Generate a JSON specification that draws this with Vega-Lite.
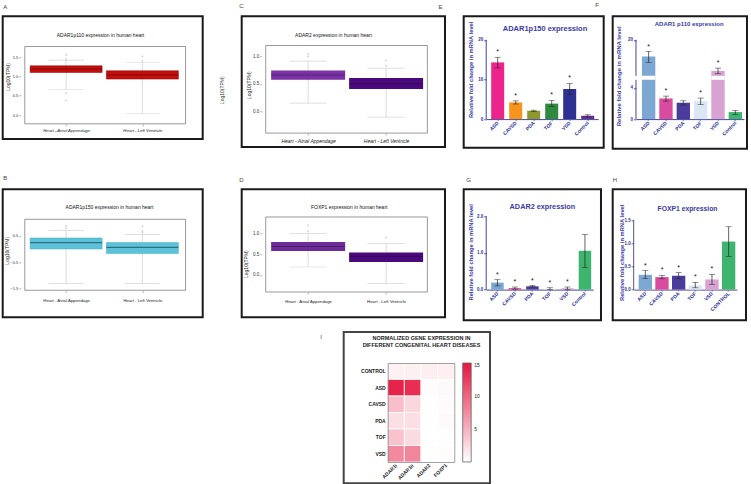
{
"$schema": "https://vega.github.io/schema/vega-lite/v6.json",
"padding": {"left": 1.7, "top": 0.3, "right": 0, "bottom": 0},
"background": "white",
"spacing": 9.7,
"resolve": {"scale": {"color": "independent"}, "legend": {"color": "independent"}},
"config": {
 "font": "Liberation Sans",
 "view": {"stroke": "#1a1a1a", "strokeWidth": 2},
 "axis": {"grid": false, "labelFont": "Liberation Sans", "titleFont": "Liberation Sans"},
 "title": {"font": "Liberation Sans"}
},
"datasets": {
 "a_box": [{"g":1,"lo":0.654,"q1":1.102,"med":1.19,"q3":1.275,"hi":1.422},{"g":2,"lo":0.034,"q1":0.931,"med":1.035,"q3":1.146,"hi":1.353}],
 "a_out": [{"g":1,"v":1.559},{"g":1,"v":1.448},{"g":1,"v":0.569},{"g":1,"v":0.378},{"g":2,"v":1.516},{"g":2,"v":1.397}],
 "b_box": [{"g":1,"lo":-1.324,"q1":0.0,"med":0.245,"q3":0.421,"hi":0.704},{"g":2,"lo":-1.324,"q1":-0.176,"med":0.065,"q3":0.245,"hi":0.551}],
 "b_out": [{"g":1,"v":0.88},{"g":1,"v":0.79},{"g":2,"v":0.87},{"g":2,"v":0.69},{"g":2,"v":0.63}],
 "c_box": [{"g":1,"lo":0.148,"q1":0.574,"med":0.66,"q3":0.744,"hi":0.916},{"g":2,"lo":-0.109,"q1":0.404,"med":0.5,"q3":0.605,"hi":0.787}],
 "c_out": [{"g":1,"v":1.044},{"g":1,"v":1.0},{"g":2,"v":0.927},{"g":2,"v":0.83}],
 "d_box": [{"g":1,"lo":0.192,"q1":0.579,"med":0.685,"q3":0.797,"hi":1.0},{"g":2,"lo":-0.21,"q1":0.313,"med":0.45,"q3":0.54,"hi":0.758}],
 "d_out": [{"g":1,"v":1.2},{"g":1,"v":1.056},{"g":2,"v":0.903}],
 "e": [{"cat":"ASD","mean":14.3,"lo":12.9,"hi":15.6,"sig":"*"},{"cat":"CAVSD","mean":4.2,"lo":3.8,"hi":4.6,"sig":"*"},{"cat":"PDA","mean":2.1,"lo":1.95,"hi":2.25,"sig":""},{"cat":"TOF","mean":3.9,"lo":3.2,"hi":4.7,"sig":"*"},{"cat":"VSD","mean":7.6,"lo":6.2,"hi":9.0,"sig":"*"},{"cat":"Control","mean":0.85,"lo":0.6,"hi":1.1,"sig":""}],
 "f": [{"cat":"ASD","mean":13.5,"lo":11.2,"hi":15.45,"sig":"*"},{"cat":"CAVSD","mean":2.65,"lo":2.3,"hi":2.95,"sig":"*"},{"cat":"PDA","mean":2.1,"lo":1.8,"hi":2.35,"sig":""},{"cat":"TOF","mean":2.3,"lo":1.85,"hi":2.7,"sig":"*"},{"cat":"VSD","mean":7.9,"lo":6.8,"hi":9.0,"sig":"*"},{"cat":"Control","mean":0.9,"lo":0.6,"hi":1.1,"sig":""}],
 "g": [{"cat":"ASD","mean":0.19,"lo":0.1,"hi":0.27,"sig":"*"},{"cat":"CAVSD","mean":0.04,"lo":0.01,"hi":0.07,"sig":"*"},{"cat":"PDA","mean":0.09,"lo":0.07,"hi":0.11,"sig":"*"},{"cat":"TOF","mean":0.02,"lo":0.0,"hi":0.05,"sig":"*"},{"cat":"VSD","mean":0.035,"lo":0.0,"hi":0.07,"sig":"*"},{"cat":"Control","mean":1.06,"lo":0.6,"hi":1.5,"sig":""}],
 "h": [{"cat":"ASD","mean":0.32,"lo":0.24,"hi":0.41,"sig":"*"},{"cat":"CAVSD","mean":0.27,"lo":0.235,"hi":0.31,"sig":"*"},{"cat":"PDA","mean":0.3,"lo":0.24,"hi":0.37,"sig":"*"},{"cat":"TOF","mean":0.09,"lo":0.04,"hi":0.157,"sig":"*"},{"cat":"VSD","mean":0.22,"lo":0.114,"hi":0.33,"sig":"*"},{"cat":"CONTROL","mean":1.04,"lo":0.72,"hi":1.36,"sig":""}],
 "i": [
  {"dis":"CONTROL","gene":"ADAR1i","val":0.9},{"dis":"CONTROL","gene":"ADAR1ii","val":0.95},{"dis":"CONTROL","gene":"ADAR2","val":1.06},{"dis":"CONTROL","gene":"FOXP1","val":1.04},
  {"dis":"ASD","gene":"ADAR1i","val":14.2},{"dis":"ASD","gene":"ADAR1ii","val":13.5},{"dis":"ASD","gene":"ADAR2","val":0.19},{"dis":"ASD","gene":"FOXP1","val":0.32},
  {"dis":"CAVSD","gene":"ADAR1i","val":4.2},{"dis":"CAVSD","gene":"ADAR1ii","val":2.65},{"dis":"CAVSD","gene":"ADAR2","val":0.04},{"dis":"CAVSD","gene":"FOXP1","val":0.27},
  {"dis":"PDA","gene":"ADAR1i","val":2.1},{"dis":"PDA","gene":"ADAR1ii","val":2.1},{"dis":"PDA","gene":"ADAR2","val":0.09},{"dis":"PDA","gene":"FOXP1","val":0.3},
  {"dis":"TOF","gene":"ADAR1i","val":3.9},{"dis":"TOF","gene":"ADAR1ii","val":2.3},{"dis":"TOF","gene":"ADAR2","val":0.02},{"dis":"TOF","gene":"FOXP1","val":0.09},
  {"dis":"VSD","gene":"ADAR1i","val":7.6},{"dis":"VSD","gene":"ADAR1ii","val":7.9},{"dis":"VSD","gene":"ADAR2","val":0.035},{"dis":"VSD","gene":"FOXP1","val":0.22}
 ]
},
"vconcat": [
{"bounds": "flush", "align": "none", "columns": 7, "spacing": 0,
 "resolve": {"scale": {"color": "independent"}, "legend": {"color": "independent"}},
 "concat": [
 {"width": 200, "height": 122.8,
  "title": {"text": "A", "anchor": "start", "fontSize": 6, "fontWeight": "normal", "color": "#444", "offset": 3.1, "frame": "group", "baseline": "middle", "dx": 0.6},
  "layer": [
   {"data": {"values": [{}]}, "mark": {"type": "rect", "fill": "white", "fillOpacity": 0, "stroke": "#555", "strokeWidth": 0.6},
    "encoding": {
     "x": {"datum": 0.458, "type": "quantitative", "scale": {"domain": [0.234, 2.725], "nice": false, "zero": false},
           "axis": {"values": [1, 2], "labelExpr": "datum.value == 1 ? 'Heart - Atrial Appendage' : 'Heart - Left Ventricle'", "offset": -15.3, "domain": false, "tickSize": 2, "tickColor": "#666", "tickWidth": 0.5, "labelFontSize": 4.3, "labelFontStyle": "italic", "labelColor": "#222", "labelPadding": 3, "labelFlush": false,
                    "title": "ADAR1p110  expression in human heart", "titleFontSize": 5, "titleFontWeight": "normal", "titleColor": "#111", "titleX": 97.3, "titleY": -89.7, "titleAlign": "center", "titleBaseline": "middle"}},
     "x2": {"datum": 2.566},
     "y": {"datum": 1.774, "type": "quantitative", "scale": {"domain": [-0.6205, 2.555], "nice": false, "zero": false},
           "axis": {"values": [0, 0.5, 1, 1.5], "format": ".1f", "offset": -18, "domain": false, "tickSize": 2, "tickColor": "#666", "tickWidth": 0.5, "labelFontSize": 4, "labelColor": "#333", "labelPadding": 1, "labelFlush": false, "title": "Log10(TPM)", "titleFontSize": 5, "titleFontWeight": "normal", "titleColor": "#222", "titleX": -13.4, "titleY": 60.2, "titleAlign": "center", "titleBaseline": "middle"}},
     "y2": {"datum": -0.225}}},
   {"data": {"name": "a_box"}, "mark": {"type": "rule", "color": "#c4c4c4", "strokeWidth": 0.6},
    "encoding": {"x": {"field": "g", "type": "quantitative"}, "y": {"field": "lo", "type": "quantitative"}, "y2": {"field": "hi"}}},
   {"data": {"name": "a_box"}, "mark": {"type": "tick", "orient": "horizontal", "size": 35, "thickness": 0.6, "color": "#c4c4c4"},
    "encoding": {"x": {"field": "g", "type": "quantitative"}, "y": {"field": "lo", "type": "quantitative"}}},
   {"data": {"name": "a_box"}, "mark": {"type": "tick", "orient": "horizontal", "size": 35, "thickness": 0.6, "color": "#c4c4c4"},
    "encoding": {"x": {"field": "g", "type": "quantitative"}, "y": {"field": "hi", "type": "quantitative"}}},
   {"data": {"name": "a_box"}, "mark": {"type": "bar", "size": 72, "color": "#c40f0f", "stroke": "#8a0000", "strokeWidth": 0.5},
    "encoding": {"x": {"field": "g", "type": "quantitative"}, "y": {"field": "q1", "type": "quantitative"}, "y2": {"field": "q3"}}},
   {"data": {"name": "a_box"}, "mark": {"type": "tick", "orient": "horizontal", "size": 72, "thickness": 1, "color": "#6e0000"},
    "encoding": {"x": {"field": "g", "type": "quantitative"}, "y": {"field": "med", "type": "quantitative"}}},
   {"data": {"name": "a_out"}, "mark": {"type": "point", "size": 2, "color": "#9a9a9a", "strokeWidth": 0.5},
    "encoding": {"x": {"field": "g", "type": "quantitative"}, "y": {"field": "v", "type": "quantitative"}}}
  ]},
 {"width": 39, "height": 1, "data": {"values": []}, "mark": "point", "view": {"stroke": null}},
 {"width": 203.3, "height": 130.8,
  "title": {"text": "C", "anchor": "start", "fontSize": 6, "fontWeight": "normal", "color": "#444", "offset": 4.8, "frame": "group", "baseline": "middle", "dx": -2.4},
  "resolve": {"axis": {"y": "independent"}},
  "layer": [
   {"data": {"values": [{}]}, "mark": {"type": "rect", "fill": "white", "fillOpacity": 0, "stroke": "#555", "strokeWidth": 0.6},
    "encoding": {
     "x": {"datum": 0.456, "type": "quantitative", "scale": {"domain": [0.212, 2.691], "nice": false, "zero": false},
           "axis": {"values": [1, 2], "labelExpr": "datum.value == 1 ? 'Heart - Atrial Appendage' : 'Heart - Left Ventricle'", "offset": -14, "domain": false, "tickSize": 2, "tickColor": "#666", "tickWidth": 0.5, "labelFontSize": 5, "labelFontStyle": "italic", "labelColor": "#222", "labelPadding": 3, "labelFlush": false,
                    "title": "ADAR2 expression in human heart", "titleFontSize": 5, "titleFontWeight": "normal", "titleColor": "#111", "titleX": 91.3, "titleY": -99, "titleAlign": "center", "titleBaseline": "middle"}},
     "x2": {"datum": 2.529},
     "y": {"datum": 1.201, "type": "quantitative", "scale": {"domain": [-0.657, 1.735], "nice": false, "zero": false},
           "axis": {"orient": "left", "values": [0, 0.5, 1], "format": ".1f", "offset": -20, "domain": false, "tickSize": 2, "tickColor": "#666", "tickWidth": 0.5, "labelFontSize": 4.5, "labelColor": "#333", "labelPadding": 1, "labelFlush": false, "title": "Log10(TPM)", "titleFontSize": 5, "titleFontWeight": "normal", "titleColor": "#222", "titleX": -13.4, "titleY": 68.5, "titleAlign": "center", "titleBaseline": "middle"}},
     "y2": {"datum": -0.401}}},
   {"data": {"name": "c_box"}, "mark": {"type": "rule", "color": "#c9c0c6", "strokeWidth": 0.6},
    "encoding": {"x": {"field": "g", "type": "quantitative"},
     "y": {"field": "lo", "type": "quantitative", "axis": {"orient": "left", "offset": 0, "labels": false, "ticks": false, "domain": false, "title": "Log10(TPM)", "titleFontSize": 5, "titleFontWeight": "normal", "titleColor": "#333", "titleX": -19.7, "titleY": 73.5, "titleAlign": "center", "titleBaseline": "middle"}},
     "y2": {"field": "hi"}}},
   {"data": {"name": "c_box"}, "mark": {"type": "tick", "orient": "horizontal", "size": 37, "thickness": 0.6, "color": "#c9c0c6"},
    "encoding": {"x": {"field": "g", "type": "quantitative"}, "y": {"field": "lo", "type": "quantitative", "axis": null}}},
   {"data": {"name": "c_box"}, "mark": {"type": "tick", "orient": "horizontal", "size": 37, "thickness": 0.6, "color": "#c9c0c6"},
    "encoding": {"x": {"field": "g", "type": "quantitative"}, "y": {"field": "hi", "type": "quantitative", "axis": null}}},
   {"data": {"name": "c_box"}, "mark": {"type": "bar", "size": 74, "strokeWidth": 0},
    "encoding": {"x": {"field": "g", "type": "quantitative"}, "y": {"field": "q1", "type": "quantitative", "axis": null}, "y2": {"field": "q3"},
     "color": {"field": "g", "type": "nominal", "scale": {"domain": [1, 2], "range": ["#7a32a6", "#4a0a7e"]}, "legend": null}}},
   {"data": {"name": "c_box"}, "mark": {"type": "tick", "orient": "horizontal", "size": 74, "thickness": 1, "color": "#000", "opacity": 0.3},
    "encoding": {"x": {"field": "g", "type": "quantitative"}, "y": {"field": "med", "type": "quantitative", "axis": null}}},
   {"data": {"name": "c_out"}, "mark": {"type": "point", "size": 2, "color": "#9a9a9a", "strokeWidth": 0.5},
    "encoding": {"x": {"field": "g", "type": "quantitative"}, "y": {"field": "v", "type": "quantitative", "axis": null}}}
  ]},
 {"width": 17.5, "height": 1, "data": {"values": []}, "mark": "point", "view": {"stroke": null}},
 {"width": 140, "height": 131.5,
  "title": {"text": "E", "anchor": "start", "fontSize": 6, "fontWeight": "normal", "color": "#444", "offset": 3.8, "frame": "group", "baseline": "middle", "dx": -25.2},
  "data": {"name": "e"},
  "layer": [
   {"mark": {"type": "bar"},
    "encoding": {
     "x": {"field": "cat", "type": "nominal", "sort": null, "scale": {"type": "band", "domain": ["ASD","CAVSD","PDA","TOF","VSD","Control"], "range": [22.5, 134.5], "paddingInner": 0.278, "paddingOuter": 0.25, "align": 0.556},
           "axis": {"offset": -28.7, "domain": true, "domainColor": "#2e3192", "domainWidth": 0.9, "tickSize": 1.5, "tickColor": "#2e3192", "tickWidth": 0.6, "labelAngle": -45, "labelAlign": "right", "labelBaseline": "middle", "labelFontSize": 5, "labelFontWeight": "bold", "labelColor": "#2e3192", "labelPadding": 1,
                    "title": "ADAR1p150 expression", "titleFontSize": 7.5, "titleFontWeight": "bold", "titleColor": "#3b3ba6", "titleX": 80.8, "titleY": -91, "titleAlign": "center", "titleBaseline": "middle"}},
     "y": {"field": "mean", "type": "quantitative", "scale": {"domain": [-7.24, 25.93], "nice": false, "zero": false},
           "axis": {"values": [0, 5, 10, 15, 20], "offset": -22.5, "domain": false, "tickSize": 2.5, "tickColor": "#2e3192", "tickWidth": 0.8, "labelFontSize": 4.5, "labelFontWeight": "bold", "labelColor": "#2e3192", "labelPadding": 1, "title": "Relative fold change in mRNA level", "titleFontSize": 5.8, "titleFontWeight": "bold", "titleColor": "#3b3ba6", "titleX": -15.7, "titleY": 53, "titleAlign": "center", "titleBaseline": "middle"}},
     "y2": {"datum": 0},
     "color": {"field": "cat", "type": "nominal", "sort": null, "scale": {"domain": ["ASD","CAVSD","PDA","TOF","VSD","Control"], "range": ["#ec258c","#f7941d","#8d9a2b","#2e8b3e","#2e3192","#662d91"]}, "legend": null}}},
   {"transform": [{"filter": "datum.cat == 'ASD'"}], "mark": {"type": "rule", "color": "#2e3192", "strokeWidth": 0.9, "xOffset": -5},
    "encoding": {"x": {"field": "cat", "type": "nominal", "sort": null, "bandPosition": 0}, "y": {"datum": 0}, "y2": {"datum": 20}}},
   {"mark": {"type": "rule", "color": "#222", "strokeWidth": 0.7},
    "encoding": {"x": {"field": "cat", "type": "nominal", "sort": null}, "y": {"field": "lo", "type": "quantitative"}, "y2": {"field": "hi"}}},
   {"mark": {"type": "tick", "orient": "horizontal", "size": 6, "thickness": 0.7, "color": "#222"},
    "encoding": {"x": {"field": "cat", "type": "nominal", "sort": null}, "y": {"field": "lo", "type": "quantitative"}}},
   {"mark": {"type": "tick", "orient": "horizontal", "size": 6, "thickness": 0.7, "color": "#222"},
    "encoding": {"x": {"field": "cat", "type": "nominal", "sort": null}, "y": {"field": "hi", "type": "quantitative"}}},
   {"mark": {"type": "text", "fontSize": 7, "dy": -5, "baseline": "middle", "color": "#111"},
    "encoding": {"x": {"field": "cat", "type": "nominal", "sort": null}, "y": {"field": "hi", "type": "quantitative"}, "text": {"field": "sig"}}}
  ]},
 {"width": 8.2, "height": 1, "data": {"values": []}, "mark": "point", "view": {"stroke": null}},
 {"width": 134.3, "height": 132.5,
  "title": {"text": "F", "anchor": "start", "fontSize": 6, "fontWeight": "normal", "color": "#444", "offset": 5.5, "frame": "group", "baseline": "middle", "dx": -17.4},
  "data": {"name": "f"},
  "layer": [
   {"mark": {"type": "bar"},
    "encoding": {
     "x": {"field": "cat", "type": "nominal", "sort": null, "scale": {"type": "band", "domain": ["ASD","CAVSD","PDA","TOF","VSD","Control"], "range": [23.3, 131.3], "paddingInner": 0.231, "paddingOuter": 0.23, "align": 0.75},
           "axis": {"offset": -29.7, "domain": true, "domainColor": "#2e3192", "domainWidth": 0.9, "tickSize": 1.5, "tickColor": "#2e3192", "tickWidth": 0.6, "labelAngle": -45, "labelAlign": "right", "labelBaseline": "middle", "labelFontSize": 5, "labelFontWeight": "bold", "labelColor": "#2e3192", "labelPadding": 1,
                    "title": "ADAR1 p110 expression", "titleFontSize": 6, "titleFontWeight": "bold", "titleColor": "#3b3ba6", "titleX": 76, "titleY": -95.3, "titleAlign": "center", "titleBaseline": "middle"}},
     "y": {"field": "mean", "type": "quantitative", "scale": {"domain": [-3.81, 0, 5.04, 6.0, 20, 29.14], "range": [132.5, 102.8, 63.5, 59.5, 23.5, 0], "nice": false, "zero": false},
           "axis": {"values": [0, 1, 2, 3, 4, 5, 10, 15, 20], "offset": -23.3, "domain": false, "tickSize": 2.5, "tickColor": "#2e3192", "tickWidth": 0.8, "labelFontSize": 4.5, "labelFontWeight": "bold", "labelColor": "#2e3192", "labelPadding": 1, "title": "Relative fold change in mRNA level", "titleFontSize": 6, "titleFontWeight": "bold", "titleColor": "#3b3ba6", "titleX": -17.3, "titleY": 59.5, "titleAlign": "center", "titleBaseline": "middle"}},
     "y2": {"datum": 0},
     "color": {"field": "cat", "type": "nominal", "sort": null, "scale": {"domain": ["ASD","CAVSD","PDA","TOF","VSD","Control"], "range": ["#7ba7d2","#d84b9e","#4b3b9b","#dbe7f4","#d8a2d3","#3db56e"]}, "legend": null}}},
   {"transform": [{"filter": "datum.mean > 6"}], "mark": {"type": "rect", "color": "white"},
    "encoding": {"x": {"field": "cat", "type": "nominal", "sort": null}, "y": {"datum": 5.04}, "y2": {"datum": 6.0}}},
   {"transform": [{"filter": "datum.cat == 'ASD'"}], "mark": {"type": "rule", "color": "#2e3192", "strokeWidth": 0.9, "xOffset": -6},
    "encoding": {"x": {"field": "cat", "type": "nominal", "sort": null, "bandPosition": 0}, "y": {"datum": 0}, "y2": {"datum": 5.04}}},
   {"transform": [{"filter": "datum.cat == 'ASD'"}], "mark": {"type": "rule", "color": "#2e3192", "strokeWidth": 0.9, "xOffset": -6},
    "encoding": {"x": {"field": "cat", "type": "nominal", "sort": null, "bandPosition": 0}, "y": {"datum": 6.0}, "y2": {"datum": 20}}},
   {"mark": {"type": "rule", "color": "#222", "strokeWidth": 0.7},
    "encoding": {"x": {"field": "cat", "type": "nominal", "sort": null}, "y": {"field": "lo", "type": "quantitative"}, "y2": {"field": "hi"}}},
   {"mark": {"type": "tick", "orient": "horizontal", "size": 6, "thickness": 0.7, "color": "#222"},
    "encoding": {"x": {"field": "cat", "type": "nominal", "sort": null}, "y": {"field": "lo", "type": "quantitative"}}},
   {"mark": {"type": "tick", "orient": "horizontal", "size": 6, "thickness": 0.7, "color": "#222"},
    "encoding": {"x": {"field": "cat", "type": "nominal", "sort": null}, "y": {"field": "hi", "type": "quantitative"}}},
   {"mark": {"type": "text", "fontSize": 7, "dy": -5, "baseline": "middle", "color": "#111"},
    "encoding": {"x": {"field": "cat", "type": "nominal", "sort": null}, "y": {"field": "hi", "type": "quantitative"}, "text": {"field": "sig"}}}
  ]},

 {"width": 1, "height": 40, "data": {"values": []}, "mark": "point", "view": {"stroke": null}},
 {"width": 1, "height": 1, "data": {"values": []}, "mark": "point", "view": {"stroke": null}},
 {"width": 1, "height": 1, "data": {"values": []}, "mark": "point", "view": {"stroke": null}},
 {"width": 1, "height": 1, "data": {"values": []}, "mark": "point", "view": {"stroke": null}},
 {"width": 1, "height": 1, "data": {"values": []}, "mark": "point", "view": {"stroke": null}},
 {"width": 1, "height": 1, "data": {"values": []}, "mark": "point", "view": {"stroke": null}},
 {"width": 1, "height": 1, "data": {"values": []}, "mark": "point", "view": {"stroke": null}},

 {"width": 200, "height": 128,
  "title": {"text": "B", "anchor": "start", "fontSize": 6, "fontWeight": "normal", "color": "#444", "offset": 5.6, "frame": "group", "baseline": "middle", "dx": 0.6},
  "layer": [
   {"data": {"values": [{}]}, "mark": {"type": "rect", "fill": "white", "fillOpacity": 0, "stroke": "#555", "strokeWidth": 0.6},
    "encoding": {
     "x": {"datum": 0.458, "type": "quantitative", "scale": {"domain": [0.234, 2.725], "nice": false, "zero": false},
           "axis": {"values": [1, 2], "labelExpr": "datum.value == 1 ? 'Heart - Atrial Appendage' : 'Heart - Left Ventricle'", "offset": -27, "domain": false, "tickSize": 2, "tickColor": "#666", "tickWidth": 0.5, "labelFontSize": 4.3, "labelColor": "#222", "labelPadding": 6, "labelFlush": false,
                    "title": "ADAR1p150  expression in human heart", "titleFontSize": 5, "titleFontWeight": "normal", "titleColor": "#111", "titleX": 106.3, "titleY": -83.3, "titleAlign": "center", "titleBaseline": "middle"}},
     "x2": {"datum": 2.566},
     "y": {"datum": 1.137, "type": "quantitative", "scale": {"domain": [-2.614, 2.285], "nice": false, "zero": false},
           "axis": {"values": [-1.5, -1, -0.5, 0, 0.5, 1], "format": ".1f", "offset": -18, "domain": false, "tickSize": 2, "tickColor": "#666", "tickWidth": 0.5, "labelFontSize": 4, "labelColor": "#333", "labelPadding": 1, "labelFlush": false, "title": "Log10(TPM)", "titleFontSize": 5, "titleFontWeight": "normal", "titleColor": "#222", "titleX": -14, "titleY": 61, "titleAlign": "center", "titleBaseline": "middle"}},
     "y2": {"datum": -1.58}}},
   {"data": {"name": "b_box"}, "mark": {"type": "rule", "color": "#c4c4c4", "strokeWidth": 0.6},
    "encoding": {"x": {"field": "g", "type": "quantitative"}, "y": {"field": "lo", "type": "quantitative"}, "y2": {"field": "hi"}}},
   {"data": {"name": "b_box"}, "mark": {"type": "tick", "orient": "horizontal", "size": 35, "thickness": 0.6, "color": "#c4c4c4"},
    "encoding": {"x": {"field": "g", "type": "quantitative"}, "y": {"field": "lo", "type": "quantitative"}}},
   {"data": {"name": "b_box"}, "mark": {"type": "tick", "orient": "horizontal", "size": 35, "thickness": 0.6, "color": "#c4c4c4"},
    "encoding": {"x": {"field": "g", "type": "quantitative"}, "y": {"field": "hi", "type": "quantitative"}}},
   {"data": {"name": "b_box"}, "mark": {"type": "bar", "size": 72, "color": "#5bc2da", "stroke": "#48a9c2", "strokeWidth": 0.5},
    "encoding": {"x": {"field": "g", "type": "quantitative"}, "y": {"field": "q1", "type": "quantitative"}, "y2": {"field": "q3"}}},
   {"data": {"name": "b_box"}, "mark": {"type": "tick", "orient": "horizontal", "size": 72, "thickness": 1.2, "color": "#1d4c5b"},
    "encoding": {"x": {"field": "g", "type": "quantitative"}, "y": {"field": "med", "type": "quantitative"}}},
   {"data": {"name": "b_out"}, "mark": {"type": "point", "size": 2, "color": "#9a9a9a", "strokeWidth": 0.5},
    "encoding": {"x": {"field": "g", "type": "quantitative"}, "y": {"field": "v", "type": "quantitative"}}}
  ]},
 {"width": 39, "height": 1, "data": {"values": []}, "mark": "point", "view": {"stroke": null}},
 {"width": 203.3, "height": 128,
  "title": {"text": "D", "anchor": "start", "fontSize": 6, "fontWeight": "normal", "color": "#444", "offset": 3.0, "frame": "group", "baseline": "middle", "dx": -2.4},
  "layer": [
   {"data": {"values": [{}]}, "mark": {"type": "rect", "fill": "white", "fillOpacity": 0, "stroke": "#555", "strokeWidth": 0.6},
    "encoding": {
     "x": {"datum": 0.456, "type": "quantitative", "scale": {"domain": [0.212, 2.691], "nice": false, "zero": false},
           "axis": {"values": [1, 2], "labelExpr": "datum.value == 1 ? 'Heart - Atrial Appendage' : 'Heart - Left Ventricle'", "offset": -25.3, "domain": false, "tickSize": 2, "tickColor": "#666", "tickWidth": 0.5, "labelFontSize": 4.3, "labelColor": "#222", "labelPadding": 6, "labelFlush": false,
                    "title": "FOXP1 expression in human heart", "titleFontSize": 5, "titleFontWeight": "normal", "titleColor": "#111", "titleX": 107, "titleY": -85, "titleAlign": "center", "titleBaseline": "middle"}},
     "x2": {"datum": 2.529},
     "y": {"datum": 1.402, "type": "quantitative", "scale": {"domain": [-1.025, 2.072], "nice": false, "zero": false},
           "axis": {"values": [0, 0.5, 1], "format": ".1f", "offset": -20, "domain": false, "tickSize": 2, "tickColor": "#666", "tickWidth": 0.5, "labelFontSize": 4.5, "labelColor": "#333", "labelPadding": 1, "labelFlush": false, "title": "Log10(TPM)", "titleFontSize": 5, "titleFontWeight": "normal", "titleColor": "#222", "titleX": -15.7, "titleY": 74.3, "titleAlign": "center", "titleBaseline": "middle"}},
     "y2": {"datum": -0.413}}},
   {"data": {"name": "d_box"}, "mark": {"type": "rule", "color": "#c9c0c6", "strokeWidth": 0.6},
    "encoding": {"x": {"field": "g", "type": "quantitative"}, "y": {"field": "lo", "type": "quantitative"}, "y2": {"field": "hi"}}},
   {"data": {"name": "d_box"}, "mark": {"type": "tick", "orient": "horizontal", "size": 37, "thickness": 0.6, "color": "#c9c0c6"},
    "encoding": {"x": {"field": "g", "type": "quantitative"}, "y": {"field": "lo", "type": "quantitative"}}},
   {"data": {"name": "d_box"}, "mark": {"type": "tick", "orient": "horizontal", "size": 37, "thickness": 0.6, "color": "#c9c0c6"},
    "encoding": {"x": {"field": "g", "type": "quantitative"}, "y": {"field": "hi", "type": "quantitative"}}},
   {"data": {"name": "d_box"}, "mark": {"type": "bar", "size": 74, "strokeWidth": 0},
    "encoding": {"x": {"field": "g", "type": "quantitative"}, "y": {"field": "q1", "type": "quantitative"}, "y2": {"field": "q3"},
     "color": {"field": "g", "type": "nominal", "scale": {"domain": [1, 2], "range": ["#6d2b98", "#4a0a7e"]}, "legend": null}}},
   {"data": {"name": "d_box"}, "mark": {"type": "tick", "orient": "horizontal", "size": 74, "thickness": 1, "color": "#000", "opacity": 0.3},
    "encoding": {"x": {"field": "g", "type": "quantitative"}, "y": {"field": "med", "type": "quantitative"}}},
   {"data": {"name": "d_out"}, "mark": {"type": "point", "size": 2, "color": "#9a9a9a", "strokeWidth": 0.5},
    "encoding": {"x": {"field": "g", "type": "quantitative"}, "y": {"field": "v", "type": "quantitative"}}}
  ]},
 {"width": 17.5, "height": 1, "data": {"values": []}, "mark": "point", "view": {"stroke": null}},
 {"width": 137.3, "height": 131,
  "title": {"text": "G", "anchor": "start", "fontSize": 6, "fontWeight": "normal", "color": "#444", "offset": 3.6, "frame": "group", "baseline": "middle", "dx": 2.5},
  "data": {"name": "g"},
  "layer": [
   {"mark": {"type": "bar"},
    "encoding": {
     "x": {"field": "cat", "type": "nominal", "sort": null, "scale": {"type": "band", "domain": ["ASD","CAVSD","PDA","TOF","VSD","Control"], "range": [22.5, 129.5], "paddingInner": 0.286, "paddingOuter": 0.2, "align": 0.714},
           "axis": {"offset": -30.7, "domain": true, "domainColor": "#2e3192", "domainWidth": 0.9, "tickSize": 1.5, "tickColor": "#2e3192", "tickWidth": 0.6, "labelAngle": -45, "labelAlign": "right", "labelBaseline": "middle", "labelFontSize": 5, "labelFontWeight": "bold", "labelColor": "#2e3192", "labelPadding": 1,
                    "title": "ADAR2 expression", "titleFontSize": 7.3, "titleFontWeight": "bold", "titleColor": "#3b3ba6", "titleX": 78.2, "titleY": -82.6, "titleAlign": "center", "titleBaseline": "middle"}},
     "y": {"field": "mean", "type": "quantitative", "scale": {"domain": [-0.838, 2.737], "nice": false, "zero": false},
           "axis": {"values": [0, 0.5, 1, 1.5, 2], "format": ".1f", "offset": -22.5, "domain": false, "tickSize": 2.5, "tickColor": "#2e3192", "tickWidth": 0.8, "labelFontSize": 4.5, "labelFontWeight": "bold", "labelColor": "#2e3192", "labelPadding": 1, "title": "Relative fold change in mRNA level", "titleFontSize": 5.8, "titleFontWeight": "bold", "titleColor": "#3b3ba6", "titleX": -15.7, "titleY": 62.5, "titleAlign": "center", "titleBaseline": "middle"}},
     "y2": {"datum": 0},
     "color": {"field": "cat", "type": "nominal", "sort": null, "scale": {"domain": ["ASD","CAVSD","PDA","TOF","VSD","Control"], "range": ["#7ba7d2","#d84b9e","#4b3b9b","#dbe7f4","#d8a2d3","#3db56e"]}, "legend": null}}},
   {"transform": [{"filter": "datum.cat == 'ASD'"}], "mark": {"type": "rule", "color": "#2e3192", "strokeWidth": 0.9, "xOffset": -5},
    "encoding": {"x": {"field": "cat", "type": "nominal", "sort": null, "bandPosition": 0}, "y": {"datum": 0}, "y2": {"datum": 2}}},
   {"mark": {"type": "rule", "color": "#222", "strokeWidth": 0.7},
    "encoding": {"x": {"field": "cat", "type": "nominal", "sort": null}, "y": {"field": "lo", "type": "quantitative"}, "y2": {"field": "hi"}}},
   {"mark": {"type": "tick", "orient": "horizontal", "size": 6, "thickness": 0.7, "color": "#222"},
    "encoding": {"x": {"field": "cat", "type": "nominal", "sort": null}, "y": {"field": "lo", "type": "quantitative"}}},
   {"mark": {"type": "tick", "orient": "horizontal", "size": 6, "thickness": 0.7, "color": "#222"},
    "encoding": {"x": {"field": "cat", "type": "nominal", "sort": null}, "y": {"field": "hi", "type": "quantitative"}}},
   {"mark": {"type": "text", "fontSize": 7, "dy": -5, "baseline": "middle", "color": "#111"},
    "encoding": {"x": {"field": "cat", "type": "nominal", "sort": null}, "y": {"field": "hi", "type": "quantitative"}, "text": {"field": "sig"}}}
  ]},
 {"width": 8.2, "height": 1, "data": {"values": []}, "mark": "point", "view": {"stroke": null}},
 {"width": 133.3, "height": 131,
  "title": {"text": "H", "anchor": "start", "fontSize": 6, "fontWeight": "normal", "color": "#444", "offset": 3.6, "frame": "group", "baseline": "middle", "dx": 0},
  "data": {"name": "h"},
  "layer": [
   {"mark": {"type": "bar"},
    "encoding": {
     "x": {"field": "cat", "type": "nominal", "sort": null, "scale": {"type": "band", "domain": ["ASD","CAVSD","PDA","TOF","VSD","CONTROL"], "range": [21, 124.3], "paddingInner": 0.2, "paddingOuter": 0.2, "align": 0.746},
           "axis": {"offset": -30.7, "domain": true, "domainColor": "#4b3c8f", "domainWidth": 0.9, "tickSize": 1.5, "tickColor": "#4b3c8f", "tickWidth": 0.6, "labelAngle": -45, "labelAlign": "right", "labelBaseline": "middle", "labelFontSize": 5, "labelFontWeight": "bold", "labelColor": "#2e3192", "labelPadding": 1,
                    "title": "FOXP1 expression", "titleFontSize": 6.8, "titleFontWeight": "bold", "titleColor": "#3b3ba6", "titleX": 74.3, "titleY": -81, "titleAlign": "center", "titleBaseline": "middle"}},
     "y": {"field": "mean", "type": "quantitative", "scale": {"domain": [-0.664, 2.171], "nice": false, "zero": false},
           "axis": {"values": [0, 0.5, 1, 1.5], "format": ".1f", "offset": -21, "domain": false, "tickSize": 2.5, "tickColor": "#4b3c8f", "tickWidth": 0.8, "labelFontSize": 4.5, "labelFontWeight": "bold", "labelColor": "#2e3192", "labelPadding": 1, "title": "Relative fold change in mRNA level", "titleFontSize": 5.8, "titleFontWeight": "bold", "titleColor": "#3b3ba6", "titleX": -12.4, "titleY": 63, "titleAlign": "center", "titleBaseline": "middle"}},
     "y2": {"datum": 0},
     "color": {"field": "cat", "type": "nominal", "sort": null, "scale": {"domain": ["ASD","CAVSD","PDA","TOF","VSD","CONTROL"], "range": ["#7ba7d2","#d84b9e","#4b3b9b","#dbe7f4","#d8a2d3","#3db56e"]}, "legend": null}}},
   {"transform": [{"filter": "datum.cat == 'ASD'"}], "mark": {"type": "rule", "color": "#4b3c8f", "strokeWidth": 0.9, "xOffset": -5},
    "encoding": {"x": {"field": "cat", "type": "nominal", "sort": null, "bandPosition": 0}, "y": {"datum": 0}, "y2": {"datum": 1.5}}},
   {"mark": {"type": "rule", "color": "#222", "strokeWidth": 0.7},
    "encoding": {"x": {"field": "cat", "type": "nominal", "sort": null}, "y": {"field": "lo", "type": "quantitative"}, "y2": {"field": "hi"}}},
   {"mark": {"type": "tick", "orient": "horizontal", "size": 6, "thickness": 0.7, "color": "#222"},
    "encoding": {"x": {"field": "cat", "type": "nominal", "sort": null}, "y": {"field": "lo", "type": "quantitative"}}},
   {"mark": {"type": "tick", "orient": "horizontal", "size": 6, "thickness": 0.7, "color": "#222"},
    "encoding": {"x": {"field": "cat", "type": "nominal", "sort": null}, "y": {"field": "hi", "type": "quantitative"}}},
   {"mark": {"type": "text", "fontSize": 7, "dy": -5, "baseline": "middle", "color": "#111"},
    "encoding": {"x": {"field": "cat", "type": "nominal", "sort": null}, "y": {"field": "hi", "type": "quantitative"}, "text": {"field": "sig"}}}
  ]}
 ]},
{"bounds": "flush", "spacing": 0,
 "resolve": {"scale": {"color": "independent"}, "legend": {"color": "independent"}},
 "hconcat": [
 {"width": 340.5, "height": 1, "data": {"values": []}, "mark": "point", "view": {"stroke": "white", "strokeWidth": 1}},
 {"width": 146.3, "height": 151.3,
  "view": {"stroke": "#444", "strokeWidth": 2},
  "title": {"text": "I", "anchor": "start", "fontSize": 6, "fontWeight": "normal", "color": "#444", "offset": -11, "frame": "group", "baseline": "middle", "dx": -23.4},
  "data": {"name": "i"},
  "resolve": {"axis": {"x": "independent", "y": "independent"}},
  "layer": [
   {"mark": {"type": "rect", "stroke": "white", "strokeWidth": 0.8},
    "encoding": {
     "x": {"field": "gene", "type": "nominal", "sort": null, "scale": {"domain": ["ADAR1i","ADAR1ii","ADAR2","FOXP1"], "range": [44, 110.6], "paddingInner": 0, "paddingOuter": 0},
           "axis": {"orient": "bottom", "offset": -21.3, "domain": true, "domainColor": "#777", "domainWidth": 0.7, "ticks": false, "labelAngle": -45, "labelAlign": "right", "labelBaseline": "middle", "labelFontSize": 5, "labelFontWeight": "bold", "labelColor": "#222", "labelPadding": 2, "title": null}},
     "y": {"field": "dis", "type": "nominal", "sort": null, "scale": {"domain": ["CONTROL","ASD","CAVSD","PDA","TOF","VSD"], "range": [31, 130], "paddingInner": 0, "paddingOuter": 0},
           "axis": {"orient": "left", "offset": -44, "domain": true, "domainColor": "#777", "domainWidth": 0.7, "ticks": false, "labelFontSize": 5, "labelFontWeight": "bold", "labelColor": "#222", "labelPadding": 2.5,
                    "title": ["NORMALIZED GENE EXPRESSION IN", "DIFFERENT CONGENITAL HEART DISEASES"], "titleAngle": 0, "titleFontSize": 5.5, "titleFontWeight": "bold", "titleColor": "#222", "titleX": 33.3, "titleY": 3.8, "titleAlign": "center", "titleBaseline": "top", "titleLineHeight": 6.7}},
     "color": {"field": "val", "type": "quantitative", "scale": {"domain": [0, 15], "range": ["#ffffff", "#e5173f"], "interpolate": "rgb"},
           "legend": {"orient": "none", "legendX": 119, "legendY": 31, "direction": "vertical", "gradientLength": 99, "gradientThickness": 8.5, "title": null, "values": [5, 10, 15], "labelFontSize": 5, "labelColor": "#222", "labelOffset": 3, "gradientStrokeColor": "#666", "gradientStrokeWidth": 0.8}}
    }},
   {"mark": {"type": "rect", "opacity": 0},
    "encoding": {
     "x": {"field": "gene", "type": "nominal", "sort": null, "axis": {"orient": "top", "offset": -31, "domain": true, "domainColor": "#777", "domainWidth": 0.7, "ticks": false, "labels": false, "title": null}},
     "y": {"field": "dis", "type": "nominal", "sort": null, "axis": {"orient": "right", "offset": -35.7, "domain": true, "domainColor": "#777", "domainWidth": 0.7, "ticks": false, "labels": false, "title": null}}
    }}
  ]}
 ]}
]
}
